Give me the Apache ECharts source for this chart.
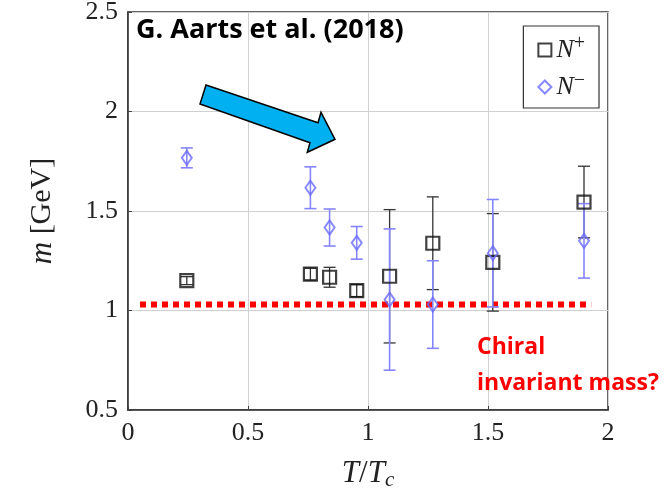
<!DOCTYPE html>
<html>
<head>
<meta charset="utf-8">
<script src="https://cdn.jsdelivr.net/npm/echarts@6/dist/echarts.min.js"></script>
<style>
html,body{margin:0;padding:0;background:#fff;}
#c{width:671px;height:491px;}
</style>
</head>
<body>
<div id="c"></div>
<script>
// ---- data ----
var xTicks = [0, 0.5, 1, 1.5, 2];
var yTicks = [0.5, 1, 1.5, 2, 2.5];
var tPlus  = [0.245, 0.76, 0.84, 0.953, 1.09, 1.27, 1.52, 1.90];
var mPlus  = [1.15, 1.183, 1.167, 1.10, 1.172, 1.338, 1.242, 1.545];
var ePlus  = [0.02, 0.03, 0.05, 0.03, 0.335, 0.233, 0.245, 0.18];
var tMinus = [0.245, 0.76, 0.84, 0.953, 1.09, 1.27, 1.52, 1.90];
var mMinus = [1.767, 1.617, 1.417, 1.34, 1.055, 1.03, 1.288, 1.35];
var eMinus = [0.05, 0.105, 0.093, 0.082, 0.355, 0.22, 0.27, 0.187];
var chiralMass = 1.03;
var chiralRange = [0.05, 1.93];

var chart = echarts.init(document.getElementById('c'));

function pts(xs, ys){ return xs.map(function(x,i){ return [x, ys[i]]; }); }
function errData(xs, ys, es){ return xs.map(function(x,i){ return [x, ys[i]-es[i], ys[i]+es[i]]; }); }
function errRender(color, width){
  return function(params, api){
    var x = api.value(0);
    var lo = api.coord([x, api.value(1)]);
    var hi = api.coord([x, api.value(2)]);
    var cap = 6;
    var st = {stroke: color, lineWidth: width};
    return {type:'group', children:[
      {type:'line', shape:{x1:lo[0], y1:lo[1], x2:hi[0], y2:hi[1]}, style:st},
      {type:'line', shape:{x1:lo[0]-cap, y1:lo[1], x2:lo[0]+cap, y2:lo[1]}, style:st},
      {type:'line', shape:{x1:hi[0]-cap, y1:hi[1], x2:hi[0]+cap, y2:hi[1]}, style:st}
    ]};
  };
}

var serif = 'Liberation Serif';
var option = {
  animation: false,
  grid: {left:128, right:63, top:12, bottom:81, show:true, borderColor:'#333', borderWidth:1.5, containLabel:false, outerBoundsMode:'none'},
  xAxis: {
    type:'value', min:0, max:2, interval:0.5,
    name:'{i|T}/{i|T}{s|c}', nameLocation:'middle', nameGap:46,
    nameTextStyle:{rich:{i:{fontFamily:serif, fontStyle:'italic', fontSize:31, color:'#222'}, s:{fontFamily:serif, fontStyle:'italic', fontSize:21, color:'#222', padding:[14,0,0,0]}}, fontFamily:serif, fontSize:31, color:'#222'},
    axisLine:{show:true, lineStyle:{color:'#333', width:1.5}},
    axisTick:{show:true, inside:true, length:4, lineStyle:{color:'#444'}},
    axisLabel:{fontFamily:serif, fontSize:26, color:'#222', margin:10, formatter:function(v){return String(v);}},
    splitLine:{show:true, lineStyle:{color:'#d0d0d0', width:1}}
  },
  yAxis: {
    type:'value', min:0.5, max:2.5, interval:0.5,
    name:'{i|m} [GeV]', nameLocation:'middle', nameGap:70, nameRotate:90,
    nameTextStyle:{rich:{i:{fontFamily:serif, fontStyle:'italic', fontSize:31, color:'#222'}}, fontFamily:serif, fontSize:30, color:'#222'},
    axisLine:{show:true, lineStyle:{color:'#333', width:1.5}},
    axisTick:{show:true, inside:true, length:4, lineStyle:{color:'#444'}},
    axisLabel:{fontFamily:serif, fontSize:26, color:'#222', margin:10, formatter:function(v){return String(v);}},
    splitLine:{show:true, lineStyle:{color:'#d0d0d0', width:1}}
  },
  legend: {
    right: 72, top: 26, orient:'vertical',
    borderColor:'#333', borderWidth:1.2, borderRadius:0,
    padding:[8,14,8,14], itemGap:8, itemWidth:13, itemHeight:13,
    backgroundColor:'#fff',
    data:[
      {name:'N+', icon:'rect', itemStyle:{color:'rgba(0,0,0,0)', borderColor:'#111', borderWidth:2}},
      {name:'N-', icon:'diamond', itemStyle:{color:'rgba(0,0,0,0)', borderColor:'#6a6aff', borderWidth:2}}
    ],
    formatter:function(n){ return n==='N+' ? '{i|N}{s|+}' : '{i|N}{s|−}'; },
    textStyle:{rich:{
      i:{fontFamily:serif, fontStyle:'italic', fontSize:26, color:'#222'},
      s:{fontFamily:serif, fontSize:20, color:'#222', padding:[0,0,12,0]}
    }}
  },
  series: [
    {type:'line', name:'chiral', data:[[chiralRange[0], chiralMass],[chiralRange[1], chiralMass]], showSymbol:false, symbol:'none',
     lineStyle:{color:'#ff0000', width:6, type:[6,5], cap:'butt'}, z:1, silent:true},
    {type:'custom', name:'errP', data:errData(tPlus, mPlus, ePlus), renderItem:errRender('#333', 1.3), z:2, silent:true},
    {type:'custom', name:'errM', data:errData(tMinus, mMinus, eMinus), renderItem:errRender('#8585ff', 1.6), z:3, silent:true},
    {type:'scatter', name:'N+', data:pts(tPlus, mPlus), symbol:'rect', symbolSize:13,
     itemStyle:{color:'rgba(0,0,0,0)', borderColor:'#111', borderWidth:2.2}, z:4},
    {type:'scatter', name:'N-', data:pts(tMinus, mMinus), symbol:'diamond', symbolSize:[10,14],
     itemStyle:{color:'rgba(0,0,0,0)', borderColor:'#6a6aff', borderWidth:2}, z:5}
  ],
  graphic: [
    {type:'polygon', z:10, shape:{points:[[206,85],[318,122.7],[321,112.3],[335,139.3],[307.3,152.3],[310,142.7],[200,104]]},
     style:{fill:'#00b0f0', stroke:'#000', lineWidth:1.5}},
    {type:'text', left:136, top:17, z:10, style:{text:'G. Aarts et al. (2018)', font:'bold 27px "Open Sans"', fill:'#000'}},
    {type:'text', left:477, top:329, z:10, style:{text:'Chiral\ninvariant mass?', font:'bold 23px "Open Sans"', fill:'#ff0000', lineHeight:36}}
  ]
};
chart.setOption(option);
</script>
</body>
</html>
